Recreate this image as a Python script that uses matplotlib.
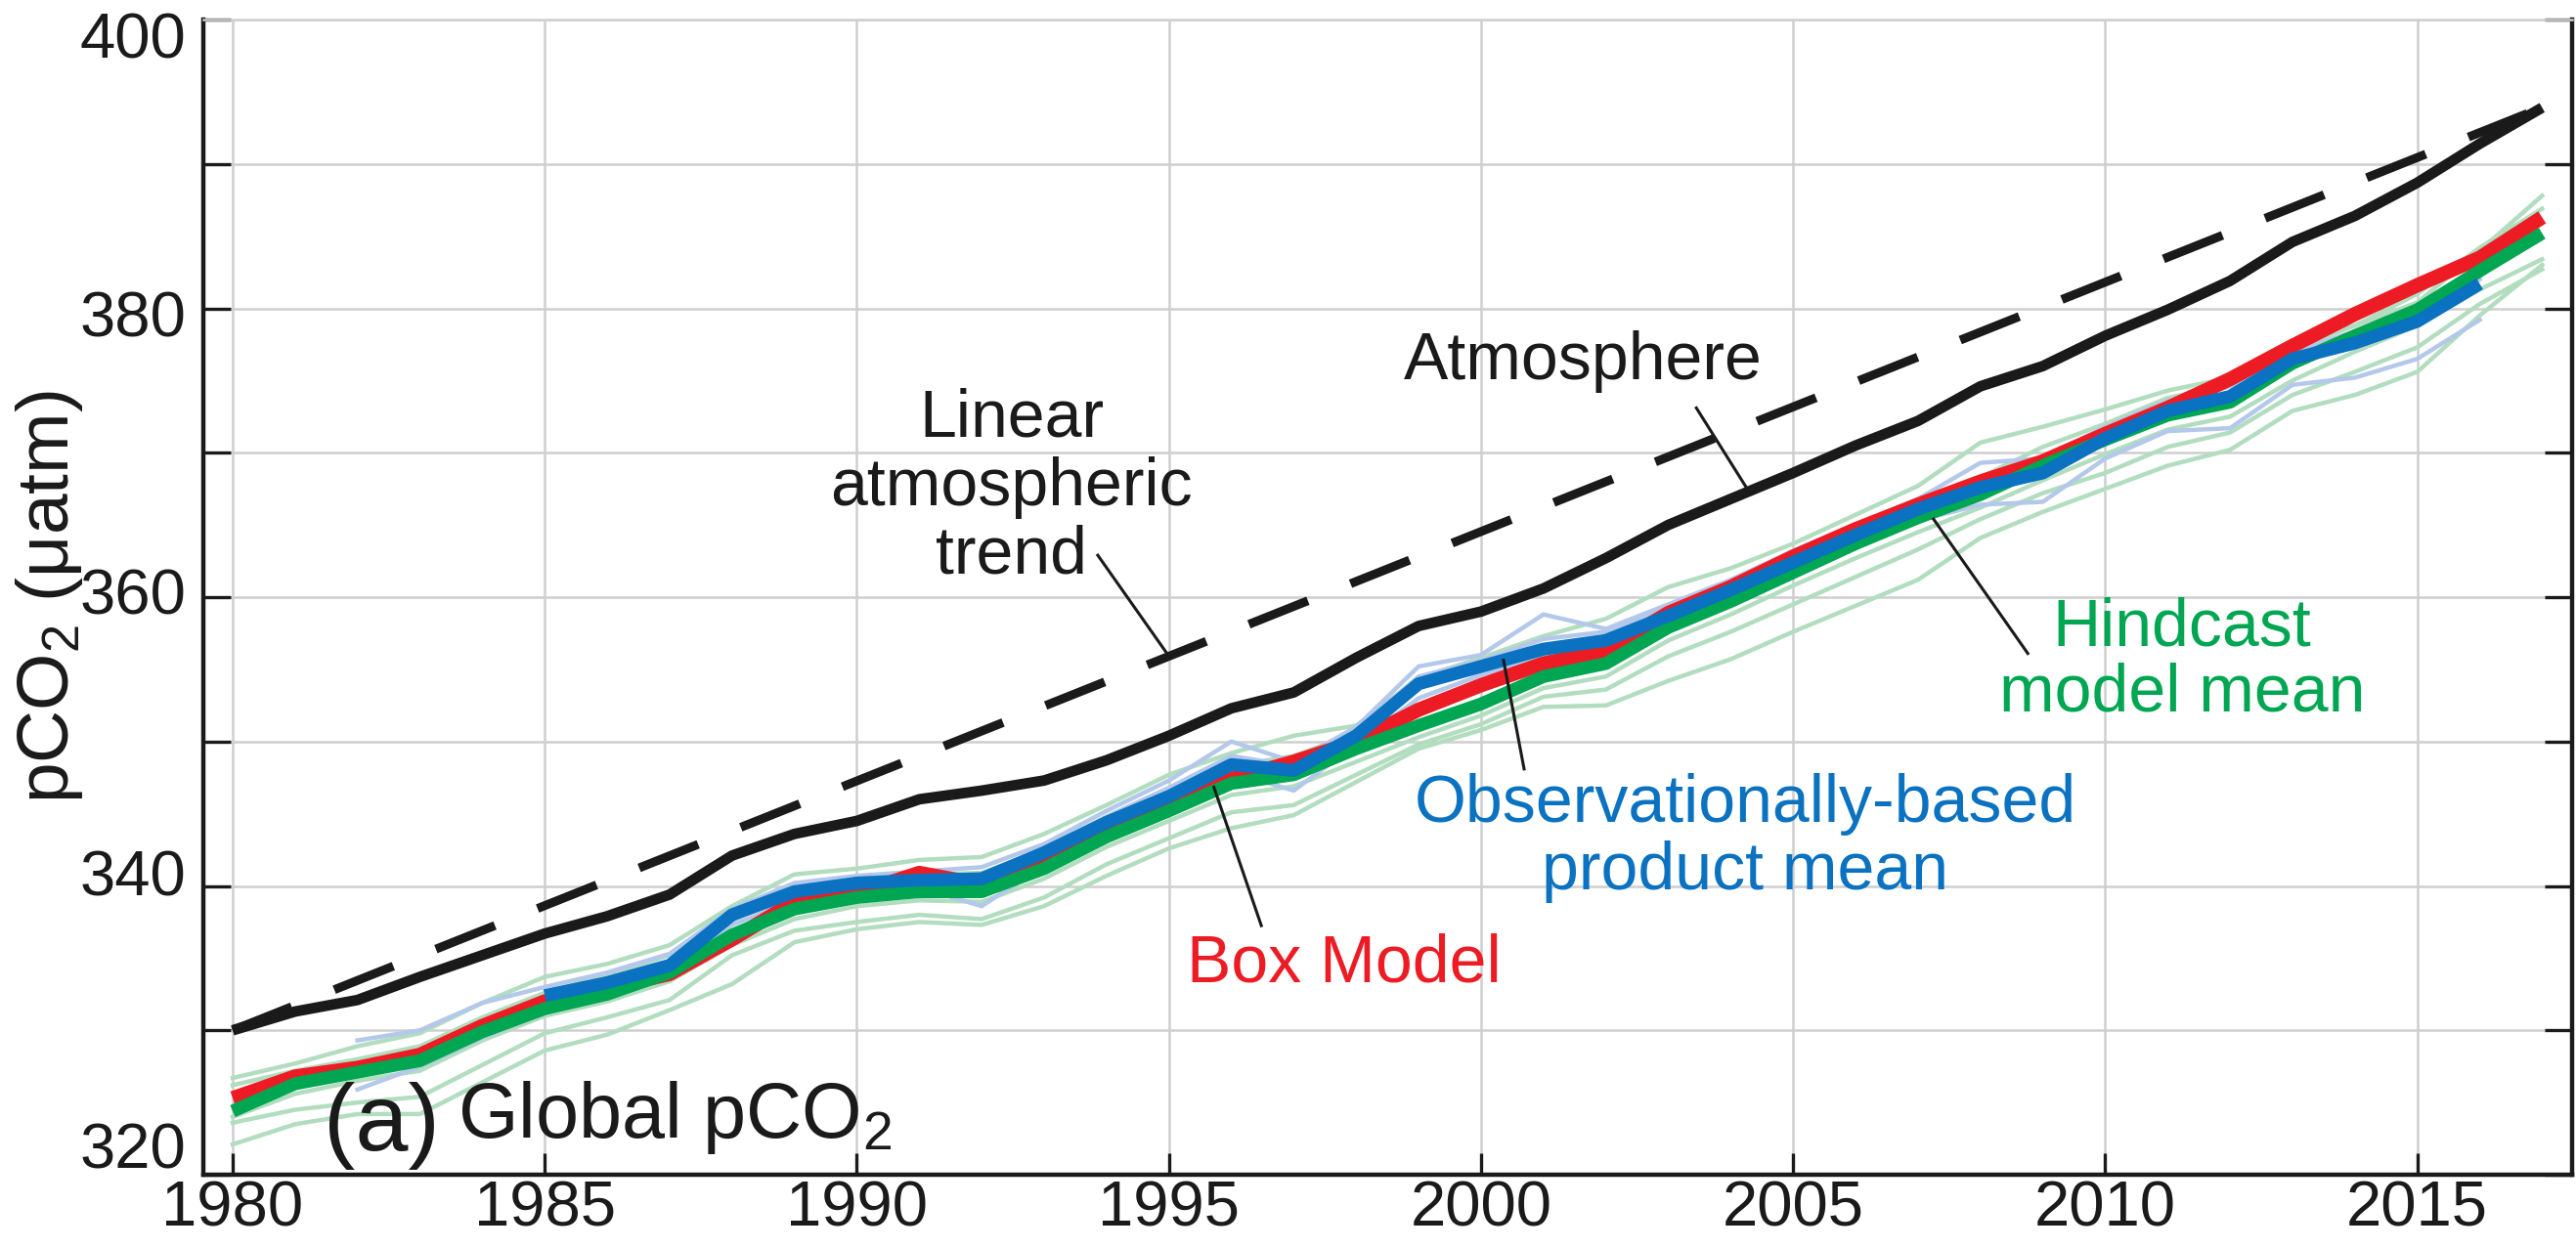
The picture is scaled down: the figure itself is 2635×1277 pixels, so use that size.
import numpy as np
import matplotlib.pyplot as plt
from matplotlib.transforms import ScaledTranslation

plt.rcParams['font.family'] = ['Liberation Sans', 'DejaVu Sans']
plt.rcParams['mathtext.default'] = 'regular'

years = np.arange(1980, 2018)
obs_years = np.arange(1985, 2017)

# atmospheric pCO2
atmosphere = [330.0, 331.3, 332.1, 333.7, 335.2, 336.7, 337.9, 339.4, 342.1, 343.6,
              344.5, 346.0, 346.6, 347.3, 348.7, 350.4, 352.3, 353.4, 355.8, 358.0,
              359.0, 360.6, 362.7, 365.0, 366.8, 368.6, 370.5, 372.2, 374.6, 376.0,
              378.1, 379.9, 381.9, 384.6, 386.4, 388.7, 391.4, 393.9]

# straight line between first and last atmospheric value
trend_years = [1980, 2017]
trend_vals = [330.0, 393.9]

box_model = [325.3, 326.8, 327.4, 328.3, 330.3, 332.0, 332.9, 333.9, 336.3, 338.9,
             339.5, 340.9, 340.1, 341.8, 343.8, 345.4, 347.4, 348.6, 350.0, 352.2,
             353.9, 355.4, 356.3, 358.9, 360.7, 362.8, 364.7, 366.4, 368.0, 369.4,
             371.3, 373.1, 375.1, 377.4, 379.6, 381.6, 383.5, 386.3]

hindcast_mean = [324.4, 326.3, 327.1, 327.9, 329.9, 331.5, 332.5, 334.0, 336.6, 338.4,
                 339.2, 339.6, 339.6, 341.2, 343.4, 345.2, 347.1, 347.7, 349.5, 351.1,
                 352.6, 354.5, 355.4, 357.9, 359.7, 361.7, 363.7, 365.5, 367.1, 369.1,
                 370.9, 372.6, 373.5, 376.2, 378.1, 379.9, 382.6, 385.2]

obs_mean = [332.4, 333.3, 334.5, 338.0, 339.6, 340.2, 340.4, 340.5, 342.3, 344.4,
            346.2, 348.4, 348.0, 350.4, 354.0, 355.2, 356.4, 357.0, 358.7, 360.5,
            362.4, 364.3, 366.1, 367.6, 368.6, 371.0, 372.9, 373.9, 376.5, 377.6,
            379.1, 381.7]

# individual hindcast models (1980-2017)
hindcast_models = [
    [326.7, 327.7, 328.9, 329.8, 331.9, 333.7, 334.6, 335.9, 338.6, 340.8,
     341.2, 341.8, 342.0, 343.6, 345.6, 347.7, 349.2, 350.4, 351.1, 354.4,
     355.8, 357.3, 358.5, 360.7, 362.0, 363.7, 365.7, 367.7, 370.7, 371.8,
     373.0, 374.3, 375.2, 377.6, 378.8, 380.4, 384.0, 387.8],
    [326.2, 327.2, 328.0, 328.9, 330.9, 332.6, 333.8, 335.2, 337.6, 339.6,
     340.4, 340.8, 340.9, 342.5, 344.6, 346.5, 348.3, 349.0, 350.6, 352.5,
     354.1, 355.9, 356.9, 359.2, 360.9, 362.9, 364.8, 366.6, 368.3, 370.4,
     372.0, 373.8, 374.7, 377.2, 378.8, 381.0, 384.2, 386.9],
    [324.0, 325.6, 326.5, 327.2, 329.3, 331.0, 332.0, 333.4, 335.9, 337.7,
     338.6, 339.0, 338.9, 340.5, 342.7, 344.5, 346.3, 346.9, 348.6, 350.3,
     351.8, 353.7, 354.5, 357.0, 358.8, 360.8, 362.7, 364.5, 366.2, 368.1,
     369.9, 371.6, 372.5, 375.0, 377.0, 378.8, 381.3, 383.4],
    [323.6, 324.5, 325.0, 325.4, 327.6, 329.8, 330.9, 332.1, 335.2, 336.9,
     337.5, 338.0, 337.7, 339.2, 341.5, 343.3, 345.1, 345.6, 347.7, 349.8,
     351.2, 353.1, 353.6, 355.9, 357.6, 359.5, 361.4, 363.3, 365.4, 367.2,
     368.6, 370.4, 371.4, 374.0, 375.6, 377.3, 380.3, 382.7],
    [322.1, 323.5, 324.2, 324.2, 326.4, 328.6, 329.7, 331.4, 333.2, 336.1,
     337.0, 337.5, 337.3, 338.6, 340.7, 342.6, 344.0, 344.9, 347.2, 349.5,
     350.8, 352.4, 352.5, 354.2, 355.7, 357.6, 359.4, 361.2, 364.1, 365.9,
     367.5, 369.1, 370.2, 372.9, 374.0, 375.6, 379.5, 383.0],
]

# individual observation-based products
obs_products = [
    (np.arange(1982, 2017),
     [329.3, 330.0, 331.9, 333.0, 334.0, 335.3, 338.4, 340.2, 340.7, 341.0,
      341.3, 342.9, 345.2, 347.3, 350.0, 348.6, 351.0, 355.2, 356.0, 358.8,
      357.8, 359.5, 361.2, 363.2, 365.0, 366.8, 369.3, 369.6, 371.8, 373.6,
      374.9, 377.3, 378.0, 379.8, 382.2]),
    (np.arange(1982, 2017),
     [325.9, 327.5, 329.5, 331.2, 332.6, 334.2, 337.3, 339.0, 339.7, 339.9,
      338.6, 341.4, 343.8, 345.6, 347.9, 346.6, 349.8, 353.0, 354.6, 355.8,
      356.3, 358.0, 359.9, 361.7, 363.6, 365.3, 366.4, 366.6, 369.6, 371.5,
      371.7, 374.7, 375.2, 376.5, 379.2]),
    (np.arange(1985, 2017),
     [332.2, 333.6, 334.8, 338.2, 339.9, 340.5, 340.6, 340.8, 342.6, 344.8,
      346.8, 349.0, 348.3, 350.8, 354.5, 355.6, 357.1, 357.6, 359.3, 361.0,
      363.0, 364.9, 366.7, 368.1, 369.4, 371.5, 373.4, 374.6, 377.0, 378.4,
      379.6, 382.0]),
]

black = '#1a1a1a'
red = '#ed1c24'
green = '#00a651'
blue = '#0a72c0'

fig = plt.figure(figsize=(26.35, 12.77), dpi=100)
ax = fig.add_axes([208/2635, 75/1277, 2423/2635, 1182/1277])

for vals in hindcast_models:
    ax.plot(years, vals, color='#b2ddbf', lw=3.2, zorder=2)
for yrs, vals in obs_products:
    ax.plot(yrs, vals, color='#b3c8ea', lw=3.2, zorder=2)

ax.plot(years, box_model, color=red, lw=10.5, zorder=3, solid_capstyle='butt')
ax.plot(years, hindcast_mean, color=green, lw=9.5, zorder=4, solid_capstyle='butt')
ax.plot(obs_years, obs_mean, color=blue, lw=9.5, zorder=5, solid_capstyle='butt')
ax.plot(years, atmosphere, color=black, lw=7.8, zorder=6, solid_capstyle='butt')
ax.plot(trend_years, trend_vals, color=black, lw=6.5, dashes=(7.2, 5.2), zorder=6)

# leader lines from the labels to their curves
def leader(x0, y0, x1, xs, ys):
    ax.plot([x0, x1], [y0, np.interp(x1, xs, ys)], color=black, lw=2.2, zorder=7)

leader(1993.86, 362.9, 1995.0, trend_years, trend_vals)
leader(2003.45, 373.1, 2004.29, years, atmosphere)
leader(2000.69, 348.1, 2000.36, obs_years, obs_mean)
leader(1996.48, 337.25, 1995.72, years, box_model)
leader(2008.76, 356.1, 2007.25, years, np.array(hindcast_mean) - 0.5)

fs = 49
ax.text(1992.48, 367.6, 'Linear\natmospheric\ntrend', ha='center', va='center',
        fontsize=fs, color=black, linespacing=1.12, zorder=8)
ax.text(2001.64, 375.1, 'Atmosphere', ha='center', va='baseline', fontsize=fs,
        color=black, zorder=8)
ax.text(2004.23, 343.3, 'Observationally-based\nproduct mean', ha='center',
        va='center', fontsize=fs, color=blue, linespacing=1.1, zorder=8)
ax.text(1997.81, 333.4, 'Box Model', ha='center', va='baseline', fontsize=fs,
        color=red, zorder=8)
ax.text(2011.23, 355.6, 'Hindcast\nmodel mean', ha='center', va='center',
        fontsize=fs, color=green, linespacing=1.05, zorder=8)
ax.text(1981.45, 321.7, '(a)', ha='left', va='baseline', fontsize=70,
        color=black, zorder=8)
ax.text(1983.6, 322.6, 'Global pCO$_2$', ha='left', va='baseline', fontsize=57,
        color=black, zorder=8)

ax.set_xlim(1979.53, 2017.48)
ax.set_ylim(320, 400)
ax.set_xticks(np.arange(1980, 2016, 5))
ax.set_yticks(np.arange(320, 401, 10))
ax.set_yticklabels([str(v) if v % 20 == 0 else '' for v in range(320, 401, 10)])
ax.grid(True, color='#cfcfcf', lw=1.8)
ax.set_axisbelow(True)

ax.tick_params(axis='both', direction='in', width=2.4, colors=black, labelsize=47)
ax.tick_params(axis='y', length=20, right=True, pad=13)
ax.tick_params(axis='x', length=16, pad=4)
for side in ['left', 'right', 'bottom']:
    ax.spines[side].set_linewidth(3.2)
    ax.spines[side].set_color(black)
ax.spines['top'].set_color('#cfcfcf')
ax.spines['top'].set_linewidth(1.8)

# y labels sit slightly closer together than the grid
nudge = {'400': -11.5, '380': -4.3, '360': 4.3, '340': 10, '320': 21.6}
for lab in ax.get_yticklabels():
    dy = nudge.get(lab.get_text(), 0)
    lab.set_transform(lab.get_transform() + ScaledTranslation(0, dy / 72, fig.dpi_scale_trans))

ax.set_ylabel('pCO$_2$ (μatm)', fontsize=54, color=black)
ax.yaxis.set_label_coords(-0.05, 0.5)

fig.savefig('out.png', dpi=100)
